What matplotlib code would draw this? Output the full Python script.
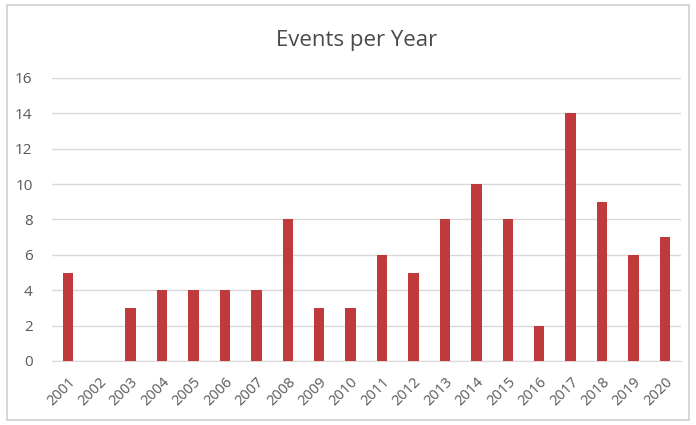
import matplotlib
matplotlib.use("Agg")
import matplotlib.pyplot as plt
from matplotlib.patches import Rectangle

years = [str(y) for y in range(2001, 2021)]
events = [5, 0, 3, 4, 4, 4, 4, 8, 3, 3, 6, 5, 8, 10, 8, 2, 14, 9, 6, 7]
yticks = [0, 2, 4, 6, 8, 10, 12, 14, 16]

plt.rcParams['font.family'] = ['Open Sans', 'DejaVu Sans']

fig = plt.figure(figsize=(6.96, 4.25), dpi=100)
fig.patches.append(Rectangle((0.01, 0.012), 0.98, 0.976, transform=fig.transFigure,
                             fill=False, edgecolor='#D0D0D0', linewidth=1.2))
ax = fig.add_axes([0.0747, 0.1506, 0.9033, 0.6659])
x = list(range(len(years)))
ax.bar(x, events, width=0.33, color='#C0393B', zorder=3)
ax.set_xlim(-0.5, len(years) - 0.5)
ax.set_ylim(0, 16)
ax.set_yticks(yticks)
ax.set_yticklabels([str(t) for t in yticks])
ax.set_xticks(x)
ax.set_xticklabels(years, rotation=45, ha='right', rotation_mode='anchor')
ax.grid(axis='y', color='#D9D9D9', linewidth=1, zorder=0)
for s in ax.spines.values():
    s.set_visible(False)
ax.spines['bottom'].set_visible(True)
ax.spines['bottom'].set_color('#D9D9D9')
ax.tick_params(axis='both', length=0, colors='#595959')
ax.tick_params(axis='x', pad=10, labelsize=10.5)
ax.tick_params(axis='y', pad=14, labelsize=11)
fig.text(0.512, 0.905, 'Events per Year', ha='center', va='center', fontsize=16, color='#4A4A4A')
fig.savefig('out.png', dpi=100)
